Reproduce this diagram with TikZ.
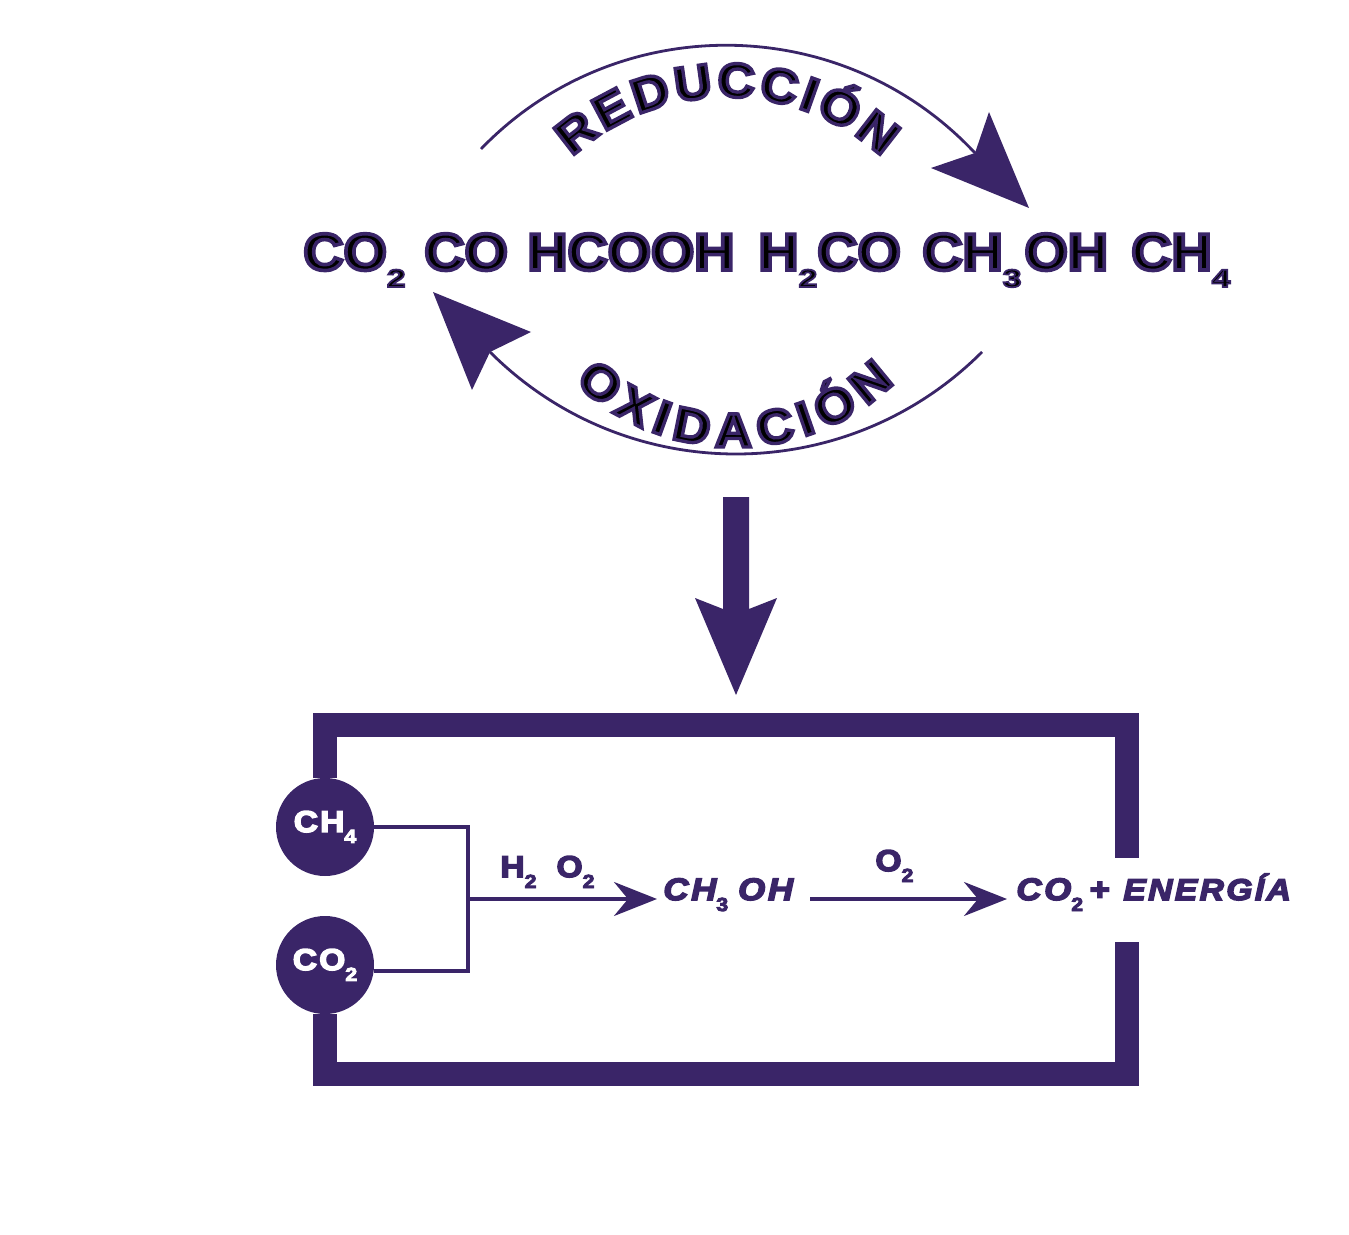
\documentclass[tikz,border=0pt]{standalone}
\usepackage{fontspec}
\usetikzlibrary{decorations.text,arrows.meta}
\setmainfont{Liberation Sans}
\definecolor{viol}{RGB}{58,37,104}
\newfontfamily\outf[FakeBold=7,FakeStretch=1.07]{Liberation Sans Bold}
\newfontfamily\subf[FakeBold=7,FakeStretch=1.35]{Liberation Sans Bold}
\newfontfamily\upf[FakeBold=5,FakeStretch=1.12,LetterSpace=7]{Liberation Sans Bold}
\newfontfamily\itf[FakeBold=5,FakeStretch=1.12,LetterSpace=9]{Liberation Sans Bold Italic}
\newfontfamily\nrgf[FakeBold=5,FakeStretch=1.12,LetterSpace=8]{Liberation Sans Bold Italic}
\newcommand\outl{\special{pdf:code 0.227 0.145 0.408 RG}}
\newcommand\bigt{\outf\fontsize{26}{26}\selectfont}
\newcommand\arct{\outf\fontsize{24}{24}\selectfont\outl}
\newcommand\mainsub[1]{\raisebox{-8.5pt}{\subf\fontsize{12.5}{12.5}\selectfont #1}}
\newcommand\labsub[1]{\raisebox{-5.5pt}{\upf\fontsize{9.5}{9.5}\selectfont #1}}
\tikzset{
  x=0.5pt,y=0.5pt,
  formula/.style={inner sep=0pt,anchor=base west,text=black,font=\bigt},
  lab/.style={inner sep=0pt,anchor=base west,text=viol,font=\upf\fontsize{15}{15}\selectfont},
  ilab/.style={inner sep=0pt,anchor=base west,text=viol,font=\itf\fontsize{15.5}{15.5}\selectfont},
  tank/.style={circle,fill=viol,minimum size=49pt,inner sep=0pt,text=white,font=\upf\fontsize{15}{15}\selectfont},
  wall/.style={draw=viol,line width=12pt,line cap=butt,line join=miter},
  pipe/.style={draw=viol,line width=1.7pt,line cap=butt,line join=miter},
  curve/.style={draw=viol,line width=1.4pt},
  flow/.style={pipe,-{Stealth[length=21.5pt,width=17pt,inset=7pt]}}
}
\begin{document}
\begin{tikzpicture}
\useasboundingbox (0,0) rectangle (1349,-1235);
% formulas
\node[formula] (f1) at (303,-270) {\outl CO\mainsub{2}};
\node[formula] (f2) at (424,-270) {\outl CO};
\node[formula] (f3) at (527,-270) {\outl HCOOH};
\node[formula] (f4) at (758,-270) {\outl H\mainsub{2}CO};
\node[formula] (f5) at (922,-270) {\outl CH\mainsub{3}\hspace{1.5pt}OH};
\node[formula] (f6) at (1131,-270) {\outl CH\mainsub{4}};
% curved words
\path[decorate,decoration={text along path,text={|\arct|REDUCCIÓN},text align=fit to path}]
  (572,-157) arc[start angle=132.4,end angle=47.6,radius=230];
\path[decorate,decoration={text along path,text={|\arct|OXIDACIÓN},text align=fit to path}]
  (575,-382.4) arc[start angle=226,end angle=314,radius=230];
% curved arrows
\coordinate (ra) at (481,-149);
\coordinate (rb) at (975,-153);
\coordinate (oa) at (982,-352);
\coordinate (ob) at (490,-352);
\draw[curve] (ra) .. controls (615,-10) and (841,-10) .. (rb);
\fill[viol] (989,-112) -- (1029,-208) -- (931,-168) -- (rb) -- cycle;
\draw[curve] (oa) .. controls (846,-488) and (626,-488) .. (ob);
\fill[viol] (433,-292) -- (531,-332) -- (ob) -- (472,-390) -- cycle;
% big arrow
\coordinate (ba) at (736,-497);
\coordinate (bb) at (736,-695);
\fill[viol] (723,-497) -- (749,-497) -- (749,-609) -- (777,-598) -- (bb) -- (695,-598) -- (723,-609) -- cycle;
% tanks
\node[tank] (ch4) at (325,-827) {\raisebox{-1.5pt}{CH\labsub{4}}};
\node[tank] (co2) at (325,-965) {\raisebox{-1.5pt}{CO\labsub{2}}};
% walls
\coordinate (gt) at (1127,-858);
\coordinate (gb) at (1127,-942);
\draw[wall] (ch4.north) -- (325,-725) -- (1127,-725) -- (gt);
\draw[wall] (co2.south) -- (325,-1074) -- (1127,-1074) -- (gb);
% collector
\coordinate (j1) at (468,-827);
\coordinate (j2) at (468,-971);
\coordinate (j3) at (468,-899);
\coordinate (t1) at (657,-899);
\coordinate (s2) at (810,-899);
\coordinate (t2) at (1007,-899);
\draw[pipe] (ch4.east |- j1) -- (j1) -- (j2) -- (co2.east |- j2);
\draw[flow] (j3) -- (t1);
\draw[flow] (s2) -- (t2);
% labels
\node[lab] (h2o2) at (500,-877) {H\labsub{2}\hspace{10pt}O\labsub{2}};
\node[ilab] (meoh) at (663,-900) {CH\labsub{3}\hspace{5pt}OH};
\node[lab] (o2) at (875,-871) {O\labsub{2}};
\node[ilab] (prod) at (1016,-900) {CO\labsub{2}\hspace{3pt}+\hspace{7pt}{\nrgf\fontsize{15}{15}\selectfont ENERGÍA}};
\end{tikzpicture}
\end{document}
